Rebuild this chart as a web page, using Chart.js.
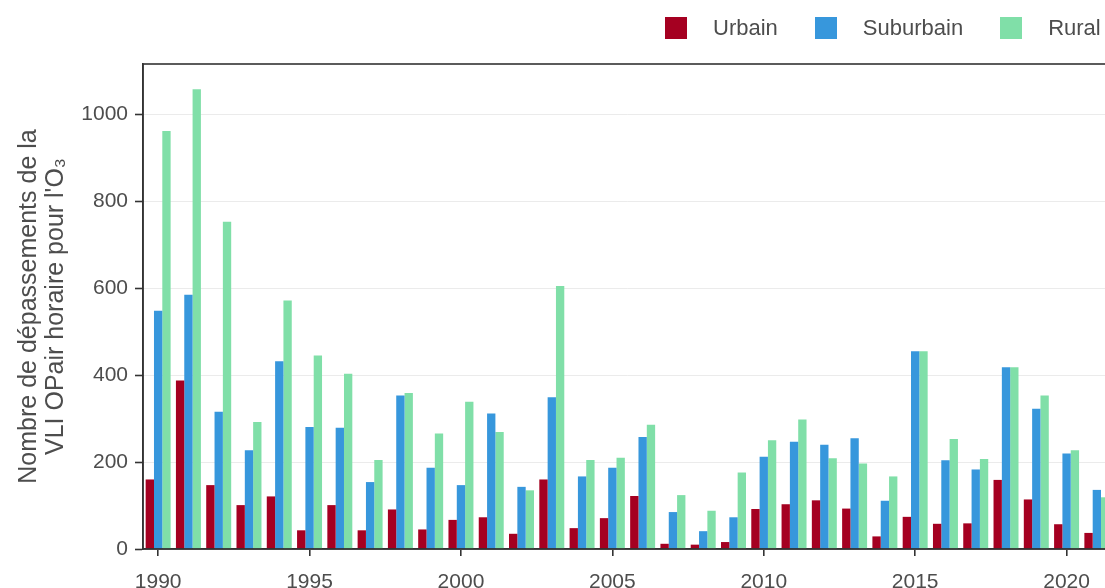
<!DOCTYPE html>
<html>
<head>
<meta charset="utf-8">
<script src="https://cdn.jsdelivr.net/npm/chart.js@4.4.1/dist/chart.umd.min.js"></script>
<style>
  html, body { margin: 0; padding: 0; background: #fff; }
  #wrap { position: relative; width: 1105px; height: 588px; overflow: hidden; background: #fff; }
  #c { position: absolute; left: 0; top: 0; }
  #legend { position: absolute; left: 665px; top: 17px; display: flex; align-items: center;
            font-family: "Liberation Sans", Arial, sans-serif; font-size: 22px; color: #4d4d4d; white-space: nowrap; }
  .sw { width: 22px; height: 22px; display: inline-block; }
  .lb { margin-left: 26px; margin-right: 37px; line-height: 22px; }
</style>
</head>
<body>
<div id="wrap">
  <canvas id="c" width="1122" height="610"></canvas>
  <div id="legend"></div>
</div>
<script>
const years = [1990,1991,1992,1993,1994,1995,1996,1997,1998,1999,2000,2001,2002,2003,2004,2005,
               2006,2007,2008,2009,2010,2011,2012,2013,2014,2015,2016,2017,2018,2019,2020,2021];
const urbain = [160,388,147,101,121,43,101,43,91,45,67,73,35,160,48,71,
                122,12,10,16,92,103,112,93,29,74,58,59,159,114,57,37];
const suburbain = [548,585,316,227,432,281,279,154,353,187,147,312,143,349,167,187,
                   258,85,41,73,212,247,240,255,111,455,204,183,418,323,220,136];
const rural = [962,1058,753,292,572,445,403,205,359,266,339,269,135,605,205,210,
               286,124,88,176,250,298,209,197,167,455,253,207,418,353,227,119];
const seriesNames = ['Urbain', 'Suburbain', 'Rural'];
const seriesColors = ['#A50021', '#3797DC', '#80DFA8'];
const yTicks = [0, 200, 400, 600, 800, 1000];
const xTickYears = [1990, 1995, 2000, 2005, 2010, 2015, 2020];
const yTitle = ['Nombre de dépassements de la', "VLI OPair horaire pour l'O\u2083"];

const FONT = '"Liberation Sans", Arial, sans-serif';
const TXT = '#4d4d4d';

// HTML legend (real text)
const legendEl = document.getElementById('legend');
seriesNames.forEach((n, i) => {
  const sw = document.createElement('span');
  sw.className = 'sw';
  sw.style.background = seriesColors[i];
  const lb = document.createElement('span');
  lb.className = 'lb';
  lb.textContent = n;
  if (i === seriesNames.length - 1) lb.style.marginRight = '0';
  legendEl.appendChild(sw);
  legendEl.appendChild(lb);
});

const borderPlugin = {
  id: 'panelBorder',
  afterDatasetsDraw(chart) {
    const a = chart.chartArea, ctx = chart.ctx;
    ctx.save();
    ctx.strokeStyle = '#333333';
    ctx.lineWidth = 1.6;
    ctx.strokeRect(a.left, a.top, a.right - a.left, a.bottom - a.top);
    ctx.restore();
  }
};

new Chart(document.getElementById('c'), {
  type: 'bar',
  data: {
    labels: years,
    datasets: [
      { label: seriesNames[0], data: urbain, backgroundColor: seriesColors[0] },
      { label: seriesNames[1], data: suburbain, backgroundColor: seriesColors[1] },
      { label: seriesNames[2], data: rural, backgroundColor: seriesColors[2] }
    ]
  },
  options: {
    responsive: false,
    animation: false,
    categoryPercentage: 0.825,
    barPercentage: 1.0,
    layout: { padding: { top: 64, right: 10, left: 0, bottom: 0 } },
    plugins: { legend: { display: false }, tooltip: { enabled: false } },
    scales: {
      x: {
        grid: {
          offset: false,
          drawOnChartArea: false,
          tickLength: 7,
          lineWidth: 1.6,
          tickColor: (ctx) => (ctx.tick && xTickYears.includes(years[ctx.index])) ? '#333333' : 'rgba(0,0,0,0)'
        },
        border: { display: true, color: '#333333', width: 1.6 },
        ticks: {
          autoSkip: false,
          maxRotation: 0,
          minRotation: 0,
          padding: 14,
          color: TXT,
          font: { family: FONT, size: 21 },
          callback: function (v, i) { return xTickYears.includes(years[i]) ? String(years[i]) : ''; }
        },
        afterFit: (s) => { s.height = 610 - 549; }
      },
      y: {
        min: 0,
        max: 1116,
        grid: {
          color: '#ebebeb',
          lineWidth: 1,
          tickLength: 8,
          tickColor: '#333333',
          tickWidth: 1.6
        },
        border: { display: true, color: '#333333', width: 1.6 },
        afterBuildTicks: (s) => { s.ticks = yTicks.map(v => ({ value: v })); },
        ticks: {
          padding: 7,
          color: TXT,
          font: { family: FONT, size: 21 },
          callback: (v) => String(v)
        },
        title: {
          display: true,
          text: yTitle,
          color: TXT,
          font: { family: FONT, size: 25, lineHeight: 1.1 },
          padding: { top: 15, bottom: 0 }
        },
        afterFit: (s) => { s.width = 143; }
      }
    }
  },
  plugins: [borderPlugin]
});
</script>
</body>
</html>
